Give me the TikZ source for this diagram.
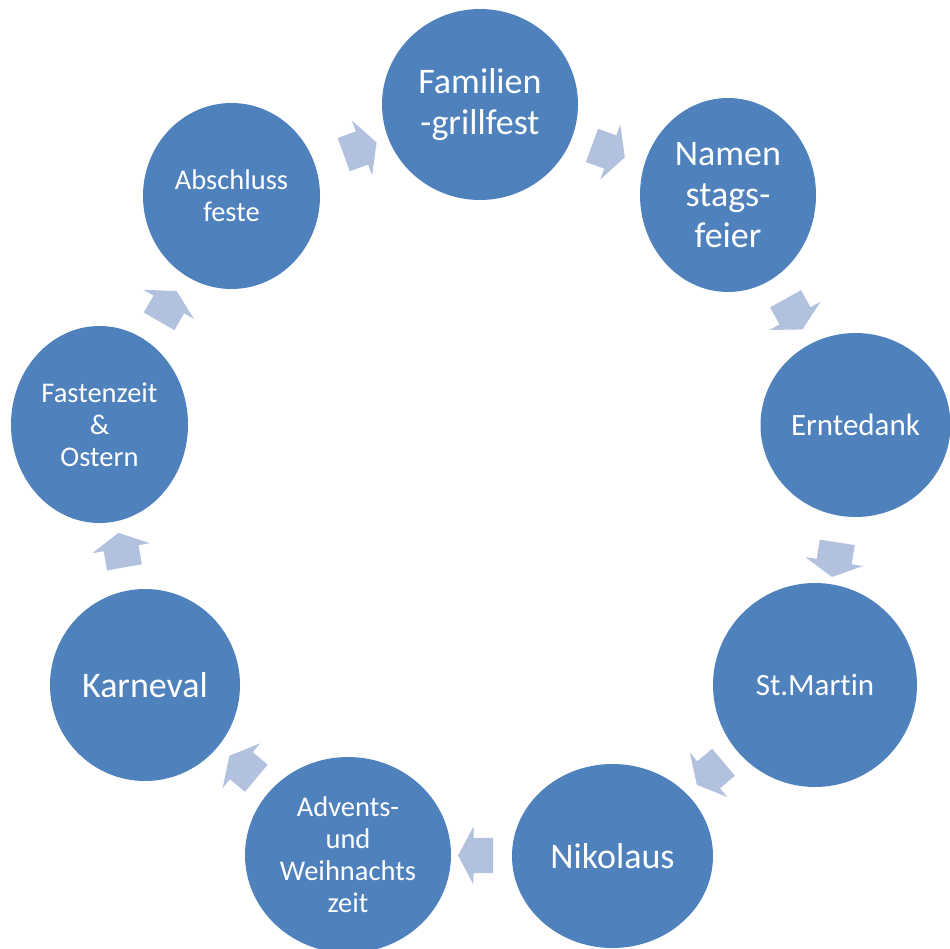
\documentclass[tikz,border=0pt]{standalone}
\usepackage{fontspec}
\setmainfont{Carlito}[Ligatures=NoCommon]
\usetikzlibrary{shapes.geometric,shapes.arrows,calc}
\definecolor{stagefill}{RGB}{79,129,189}
\definecolor{stagearrow}{RGB}{178,194,222}

\tikzset{
  stage/.style={ellipse, fill=stagefill, text=white, inner sep=0pt, align=center},
  bigtext/.style={font=\fontsize{36}{41}\selectfont},
  midtext/.style={font=\fontsize{31}{37}\selectfont},
  smalltext/.style={font=\fontsize{28.5}{32}\selectfont},
  flow/.style={single arrow, fill=stagearrow, inner xsep=0pt, inner ysep=17.5pt,
    minimum height=35pt, single arrow head extend=11.5pt,
    single arrow tip angle=124}
}

\begin{document}
\begin{tikzpicture}[x=1pt,y=-1pt]
    \clip (0,0) rectangle (950,949);

    % Stages of the year
    \node[stage, bigtext, minimum width=196pt, minimum height=191pt] (fam) at (480,104.5) {Familien\\-grillfest};
    \node[stage, bigtext, minimum width=176pt, minimum height=194pt] (nam) at (728,195) {Namen\\stags-\\feier};
    \node[stage, midtext, minimum width=190pt, minimum height=184pt] (ern) at (855.5,425) {Erntedank};
    \node[stage, midtext, minimum width=204pt, minimum height=204pt] (mar) at (815,685) {St.Mart\kern0pt in};
    \node[stage, bigtext, minimum width=201pt, minimum height=184pt] (nik) at (612.5,856) {Nikolaus};
    \node[stage, smalltext, minimum width=206pt, minimum height=196pt] (adv) at (348,855) {Advents-\\und\\Weihnachts\\zeit};
    \node[stage, bigtext, minimum width=190pt, minimum height=192pt] (kar) at (145,685) {Karneval};
    \node[stage, smalltext, minimum width=177pt, minimum height=197pt] (fas) at (99.5,424.5) {Fastenzeit\\\&\\Ostern};
    \node[stage, smalltext, minimum width=177pt, minimum height=186pt] (abs) at (231.5,196) {Abschluss\\feste};

    % Arrows between the stages
    \foreach \from/\to in {fam/nam, nam/ern, ern/mar, mar/nik, nik/adv, adv/kar, kar/fas, fas/abs, abs/fam} {
        \path let \p1 = ($(\to)-(\from)$), \n1 = {atan2(\y1,\x1)} in
            node[flow, rotate=\n1] (\from-\to) at ($(\from)!0.5!(\to)$) {};
    }
\end{tikzpicture}
\end{document}
